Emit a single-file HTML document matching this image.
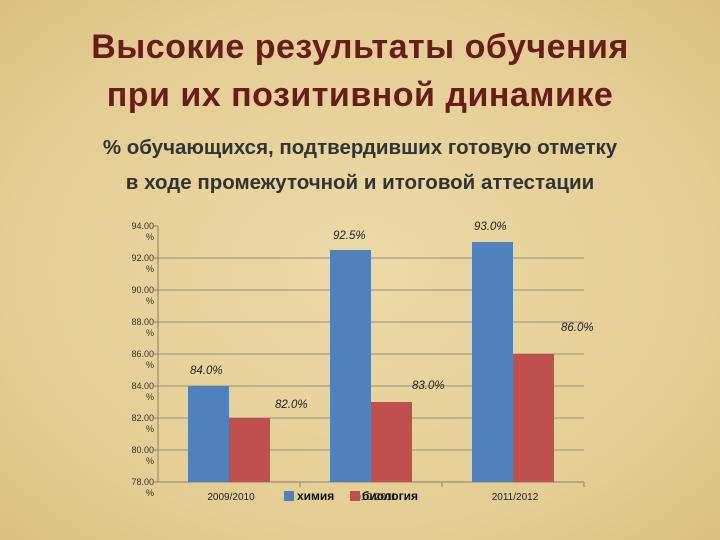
<!DOCTYPE html>
<html><head><meta charset="utf-8"><style>
body{margin:0;width:720px;height:540px;overflow:hidden;background:#e6d29b;font-family:"Liberation Sans","DejaVu Sans",sans-serif;}
#bg{position:absolute;left:0;top:0;width:720px;height:540px;background:radial-gradient(ellipse at 50% 50%,#ecd9a6 0%,#e3cd92 70%,#d9c080 100%);}
.t{position:absolute;left:0;width:720px;text-align:center;color:#6a1c1c;font-weight:bold;font-size:34px;letter-spacing:0.5px;}
.s{position:absolute;left:0;width:720px;text-align:center;color:#333;font-weight:bold;font-size:20.5px;}
svg{position:absolute;left:0;top:0}
</style></head><body>
<div id="bg"></div>
<div class="t" style="top:28px">Высокие результаты обучения</div>
<div class="t" style="top:76px">при их позитивной динамике</div>
<div class="s" style="top:136px">% обучающихся, подтвердивших готовую отметку</div>
<div class="s" style="top:171px">в ходе промежуточной и итоговой аттестации</div>
<svg id="c" width="720" height="540"></svg>
<script>
const categories=["2009/2010","2010/2011","2011/2012"];
const chem=[84.0,92.5,93.0];
const bio=[82.0,83.0,86.0];
const ticks=[78,80,82,84,86,88,90,92,94];
const NS="http://www.w3.org/2000/svg";
const svg=document.getElementById('c');
const x0=158,cw=142,yMin=78,yMax=94,yTop=226,yBot=482;
const y=v=>yBot-(v-yMin)/(yMax-yMin)*(yBot-yTop);
function mk(t,a,txt){const e=document.createElementNS(NS,t);for(const k in a)e.setAttribute(k,a[k]);if(txt!=null)e.textContent=txt;svg.appendChild(e);return e;}
ticks.forEach(v=>{
 if(v>yMin&&v<yMax){const g=mk('line',{x1:x0,x2:x0+cw*3,y1:y(v),y2:y(v),stroke:'#9a9080','stroke-width':1});
 
 }
 mk('line',{x1:x0-4,x2:x0,y1:y(v),y2:y(v),stroke:'#8a8070'});
 const a=mk('text',{x:154,y:y(v)+3,'text-anchor':'end','font-size':9,fill:'#333'},v.toFixed(2));
 
 
 mk('text',{x:154,y:y(v)+14,'text-anchor':'end','font-size':9,fill:'#333'},'%');
});
mk('line',{x1:x0,x2:x0,y1:yTop,y2:yBot,stroke:'#8a8070'});
mk('line',{x1:x0,x2:x0+cw*3,y1:yBot,y2:yBot,stroke:'#8a8070'});
const bw=41;
const lblOff=[[32,-12,117,-10],[33,-11,112,-13],[32,-12,119,-23]];
categories.forEach((c,i)=>{
 const cx=x0+cw*i;
 mk('line',{x1:cx+cw,x2:cx+cw,y1:yBot,y2:yBot+5,stroke:'#8a8070'});
 const b1=mk('rect',{x:cx+30,y:y(chem[i]),width:bw,height:yBot-y(chem[i]),fill:'#4f81bd'});
 
 
 const b2=mk('rect',{x:cx+30+bw,y:y(bio[i]),width:bw,height:yBot-y(bio[i]),fill:'#c0504d'});
 
 
 const o=lblOff[i];
 const l1=mk('text',{x:cx+o[0],y:y(chem[i])+o[1],'font-size':11.5,'font-style':'italic',fill:'#222'},chem[i].toFixed(1)+'%');
 
 
 const l2=mk('text',{x:cx+o[2],y:y(bio[i])+o[3],'font-size':11.5,'font-style':'italic',fill:'#222'},bio[i].toFixed(1)+'%');
 
 
 const xl=mk('text',{x:cx+cw/2+2,y:500,'text-anchor':'middle','font-size':10,fill:'#222'},c);
 
 
});
const lg=mk('rect',{x:284,y:491,width:10,height:10,fill:'#4f81bd'});


const lt=mk('text',{x:297,y:500,'font-size':12,'font-weight':'bold',fill:'#111'},'химия');


const lg2=mk('rect',{x:350,y:491,width:10,height:10,fill:'#c0504d'});


const lt2=mk('text',{x:362,y:500,'font-size':12,'font-weight':'bold',fill:'#111'},'биология');


</script>
</body></html>
